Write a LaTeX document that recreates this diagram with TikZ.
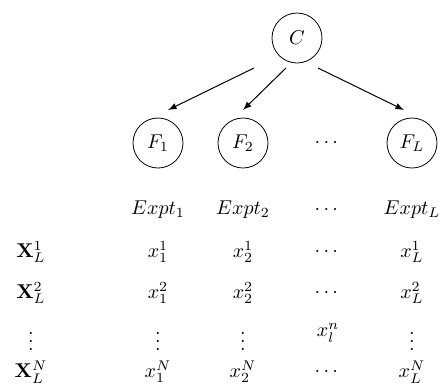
\documentclass[tikz,border=0pt]{standalone}
\usepackage{amsmath}
\usetikzlibrary{arrows}

\tikzset{
  var/.style={circle, draw, minimum size=25pt, inner sep=0pt},
  cell/.style={inner sep=0.5pt},
  arr/.style={-latex, line width=0.5},
}

\begin{document}
\begin{tikzpicture}[x=0.5pt, y=-0.5pt]
\useasboundingbox (0,0) rectangle (441,388);

% the class node and its features
\node[var] (C) at (297,38) {$C$};
\node[var] (F1) at (158,143) {$F_1$};
\node[var] (F2) at (243,143) {$F_2$};
\node (Fd) at (328,143) {$\cdots$};
\node[var] (FL) at (412,143) {$F_L$};

\draw[arr] ([shift={(-43,30)}]C.center) -- ([shift={(10,-33)}]F1.center);
\draw[arr] ([shift={(-11,30)}]C.center) -- ([shift={(0,-33)}]F2.center);
\draw[arr] ([shift={(21,30)}]C.center) -- ([shift={(-8,-33)}]FL.center);

% column heads
\node[cell] (E1) at (158,210) {$Expt_1$};
\node[cell] (E2) at (243,210) {$Expt_2$};
\node[cell] (Ed) at (328,210) {$\cdots$};
\node[cell] (EL) at (412,210) {$Expt_L$};

% rows
\node[cell] (X1) at (31,252) {$\mathbf{X}_L^1$};
\node[cell] (X2) at (31,293) {$\mathbf{X}_L^2$};
\node[cell] (Xd) at (31,335) {$\vdots$};
\node[cell] (XN) at (31,372) {$\mathbf{X}_L^N$};

\foreach \r/\y in {1/252, 2/293, N/372}{
  \node[cell] (x1\r) at (158,\y) {$x_1^{\r}$};
  \node[cell] (x2\r) at (243,\y) {$x_2^{\r}$};
  \node[cell] (xd\r) at (328,\y) {$\cdots$};
  \node[cell] (xL\r) at (412,\y) {$x_L^{\r}$};
}
\node[cell] (v1) at (158,335) {$\vdots$};
\node[cell] (v2) at (243,335) {$\vdots$};
\node[cell] (xln) at (328,333) {$x_l^n$};
\node[cell] (vL) at (412,335) {$\vdots$};
\end{tikzpicture}
\end{document}
